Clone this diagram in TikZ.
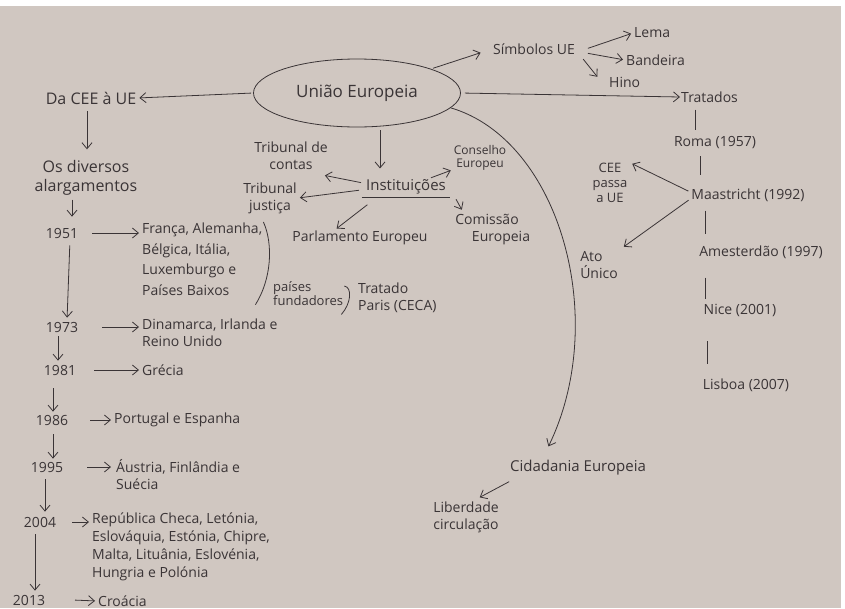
\documentclass[tikz,border=0pt]{standalone}
\usepackage{fontspec}
\setmainfont{Open Sans}
\usetikzlibrary{shapes.geometric,arrows.meta,calc}
\definecolor{paper}{RGB}{208,199,193}
\definecolor{ink}{RGB}{58,52,54}
\begin{document}
\begin{tikzpicture}[x=1pt,y=-1pt]
  \tikzstyle{txt} = [text=ink, font=\fontsize{14}{17}\selectfont, align=center, inner sep=1pt]
  \tikzstyle{lft} = [txt, align=left]
  \tikzstyle{big} = [txt, font=\fontsize{16}{19}\selectfont]
  \tikzstyle{arrow} = [ink, line width=0.8pt, ->, >={Straight Barb[length=6pt,width=10pt]}, shorten <=2pt, shorten >=2pt]
  \tikzstyle{tick} = [ink, line width=0.8pt]

  % paper
  \fill[paper] (0,0) rectangle (845,608);
  \fill[white] (0,0) rectangle (845,6);
  \fill[white] (841,0) rectangle (845,608);
  \useasboundingbox (0,0) rectangle (845,608);

  % centre
  \node (ue) [ellipse, draw=ink, line width=0.8pt, minimum width=207pt, minimum height=68pt, txt, font=\fontsize{17}{20}\selectfont] at (357,93) {União Europeia};

  % alargamentos
  \node (cee) [big] at (91,98) {Da CEE à UE};
  \draw [arrow] (ue.west) -- (cee.east);
  \node (div) [big] at (86,178) {Os diversos\\alargamentos};
  \draw [arrow, shorten <=6pt, shorten >=10pt] (cee.south -| 87,0) -- (div.north -| 87,0);
  \node (a1951) [txt] at (62,233) {1951};
  \draw [arrow, shorten <=3pt, shorten >=10pt] (div.south -| 72,0) -- (a1951.north -| 72,0);
  \node (fund) [lft, font=\fontsize{14}{20.5}\selectfont, anchor=north west] at (141,222) {França, Alemanha,\\Bélgica, Itália,\\Luxemburgo e\\Países Baixos};
  \draw [arrow] (a1951.east -| 90,0) -- (a1951.east -| 141,0);
  \draw [tick] (fund.north east) .. controls ($(fund.east)+(10,-15)$) and ($(fund.east)+(8,20)$) .. ($(fund.south east)+(-8,8)$);
  \node (paises) [lft, font=\fontsize{13}{14}\selectfont, anchor=north west] at (272,280) {países\\fundadores};
  \draw [tick] ($(paises.north east)+(0,6)$) .. controls ($(paises.east)+(8,-6)$) and ($(paises.east)+(7,10)$) .. ($(paises.south east)+(-3,8)$);
  \node (paris) [lft, anchor=west] at (357,298) {Tratado\\Paris (CECA)};
  \node (a1973) [txt] at (62,327) {1973};
  \draw [arrow, shorten <=6pt, shorten >=3pt] (a1951.south -| 70,0) -- (a1973.north -| 67,0);
  \node (din) [lft, anchor=north west] at (141,318) {Dinamarca, Irlanda e\\Reino Unido};
  \draw [arrow] (a1973.east -| 100,0) -- (a1973.east -| 141,0);
  \node (a1981) [txt] at (60,370) {1981};
  \draw [arrow, shorten <=3pt, shorten >=3pt] (a1973.south -| 58,0) -- (a1981.north -| 58,0);
  \node (gre) [lft, anchor=west] at (141,370) {Grécia};
  \draw [arrow] (a1981.east -| 92,0) -- (gre.west);
  \node (a1986) [txt] at (52,420) {1986};
  \draw [arrow, shorten <=12pt, shorten >=2pt] (a1981.south -| 53,0) -- (a1986.north -| 53,0);
  \node (pt) [lft, anchor=west] at (113,420) {Portugal e Espanha};
  \draw [arrow] (a1986.east -| 88,0) -- (pt.west);
  \node (a1995) [txt] at (47,467) {1995};
  \draw [arrow, shorten <=8pt, shorten >=2pt] (a1986.south -| 53,0) -- (a1995.north -| 53,0);
  \node (aus) [lft, anchor=north west] at (115,458) {Áustria, Finlândia e\\Suécia};
  \draw [arrow] (a1995.east -| 85,0) -- (a1995.east -| 113,0);
  \node (a2004) [txt] at (40,522) {2004};
  \draw [arrow, shorten <=6pt, shorten >=4pt] (a1995.south -| 45,0) -- (a2004.north -| 45,0);
  \node (rep) [lft, font=\fontsize{14}{18}\selectfont, anchor=north west] at (91,512) {República Checa, Letónia,\\Eslováquia, Estónia, Chipre,\\Malta, Lituânia, Eslovénia,\\Hungria e Polónia};
  \draw [arrow] (a2004.east -| 70,0) -- (a2004.east -| 91,0);
  \node (a2013) [txt] at (29,600) {2013};
  \draw [arrow, shorten <=6pt, shorten >=3pt] (a2004.south -| 35,0) -- (a2013.north -| 35,0);
  \node (cro) [lft, anchor=west] at (97,601) {Croácia};
  \draw [arrow] (a2013.east -| 73,0) -- (cro.west);

  % simbolos
  \node (simb) [txt] at (534,49) {Símbolos UE};
  \draw [arrow, shorten >=12pt] (ue.18) -- (simb.west);
  \node (lema) [lft, anchor=west] at (633,33) {Lema};
  \node (band) [lft, anchor=west] at (625,60) {Bandeira};
  \node (hino) [lft, anchor=west] at (608,82) {Hino};
  \draw [arrow] ($(simb.east)+(10,0)$) -- (lema.west);
  \draw [arrow] ($(simb.east)+(10,4)$) -- (band.west);
  \draw [arrow, shorten >=1pt] ($(simb.south east)+(6,2)$) -- ($(hino.north west)+(-10,2)$);

  % tratados
  \node (trat) [lft, anchor=west] at (680,97) {Tratados};
  \draw [arrow, shorten <=4pt, shorten >=0pt] (ue.east) -- (trat.west);
  \node (roma) [txt] at (715,143) {Roma (1957)};
  \node (maas) [txt] at (748,195) {Maastricht (1992)};
  \node (ams) [txt] at (761,252) {Amesterdão (1997)};
  \node (nice) [txt] at (740,310) {Nice (2001)};
  \node (lis) [txt] at (746,385) {Lisboa (2007)};
  \draw [tick, shorten <=6pt, shorten >=6pt] (trat.south -| 695,0) -- (roma.north -| 695,0);
  \draw [tick, shorten <=6pt, shorten >=12pt] (roma.south -| 700,0) -- (maas.north -| 700,0);
  \draw [tick, shorten <=8pt, shorten >=10pt] (maas.south -| 705,0) -- (ams.north -| 705,0);
  \draw [tick, shorten <=18pt, shorten >=4pt] (ams.south -| 705,0) -- (nice.north -| 705,0);
  \draw [tick, shorten <=24pt, shorten >=13pt] (nice.south -| 707,0) -- (lis.north -| 707,0);
  \node (passa) [txt, font=\fontsize{13}{15}\selectfont] at (610,183) {CEE\\passa\\a UE};
  \draw [arrow, shorten >=4pt] ($(maas.west)+(0,-3)$) -- (passa.north east);
  \node (ato) [lft] at (599,265) {Ato\\Único};
  \draw [arrow, shorten >=6pt] ($(maas.west)+(0,4)$) -- (ato.north east);

  % instituicoes
  \node (inst) [txt, font=\fontsize{15}{17}\selectfont] at (406,187) {Instituições};
  \draw [tick] ($(inst.south west)+(-3,2)$) -- ($(inst.south east)+(3,2)$);
  \draw [arrow, shorten <=3pt, shorten >=10pt] (ue.south -| 380,0) -- (inst.north -| 380,0);
  \node (tcont) [txt] at (291,156) {Tribunal de\\contas};
  \node (tjus) [txt] at (270,198) {Tribunal\\justiça};
  \node (cons) [txt, font=\fontsize{12}{13}\selectfont] at (480,158) {Conselho\\Europeu};
  \node (com) [txt] at (487,230) {Comissão\\\hspace*{28pt}Europeia};
  \node (parl) [txt] at (360,238) {Parlamento Europeu};
  \draw [arrow] ($(inst.west)+(-2,-4)$) -- ($(tcont.south east)+(-6,4)$);
  \draw [arrow] ($(inst.west)+(-4,3)$) -- (tjus.east);
  \draw [arrow] ($(inst.north east)+(-18,0)$) -- ($(cons.south west)+(0,-2)$);
  \draw [arrow] ($(inst.south east)+(8,2)$) -- ($(com.north west)+(20,-2)$);
  \draw [arrow] ($(inst.south west)+(4,8)$) -- ($(parl.north)+(-25,0)$);

  % cidadania
  \node (cid) [txt, font=\fontsize{15}{17}\selectfont] at (578,468) {Cidadania Europeia};
  \draw [arrow, shorten <=0pt, shorten >=1pt] (ue.-9) .. controls (560,140) and (610,320) .. ($(cid.north)+(-30,-12)$);
  \node (lib) [txt] at (466,517) {Liberdade\\circulação};
  \draw [arrow] ($(cid.south west)+(2,4)$) -- ($(lib.north east)+(-22,-2)$);
\end{tikzpicture}
\end{document}
